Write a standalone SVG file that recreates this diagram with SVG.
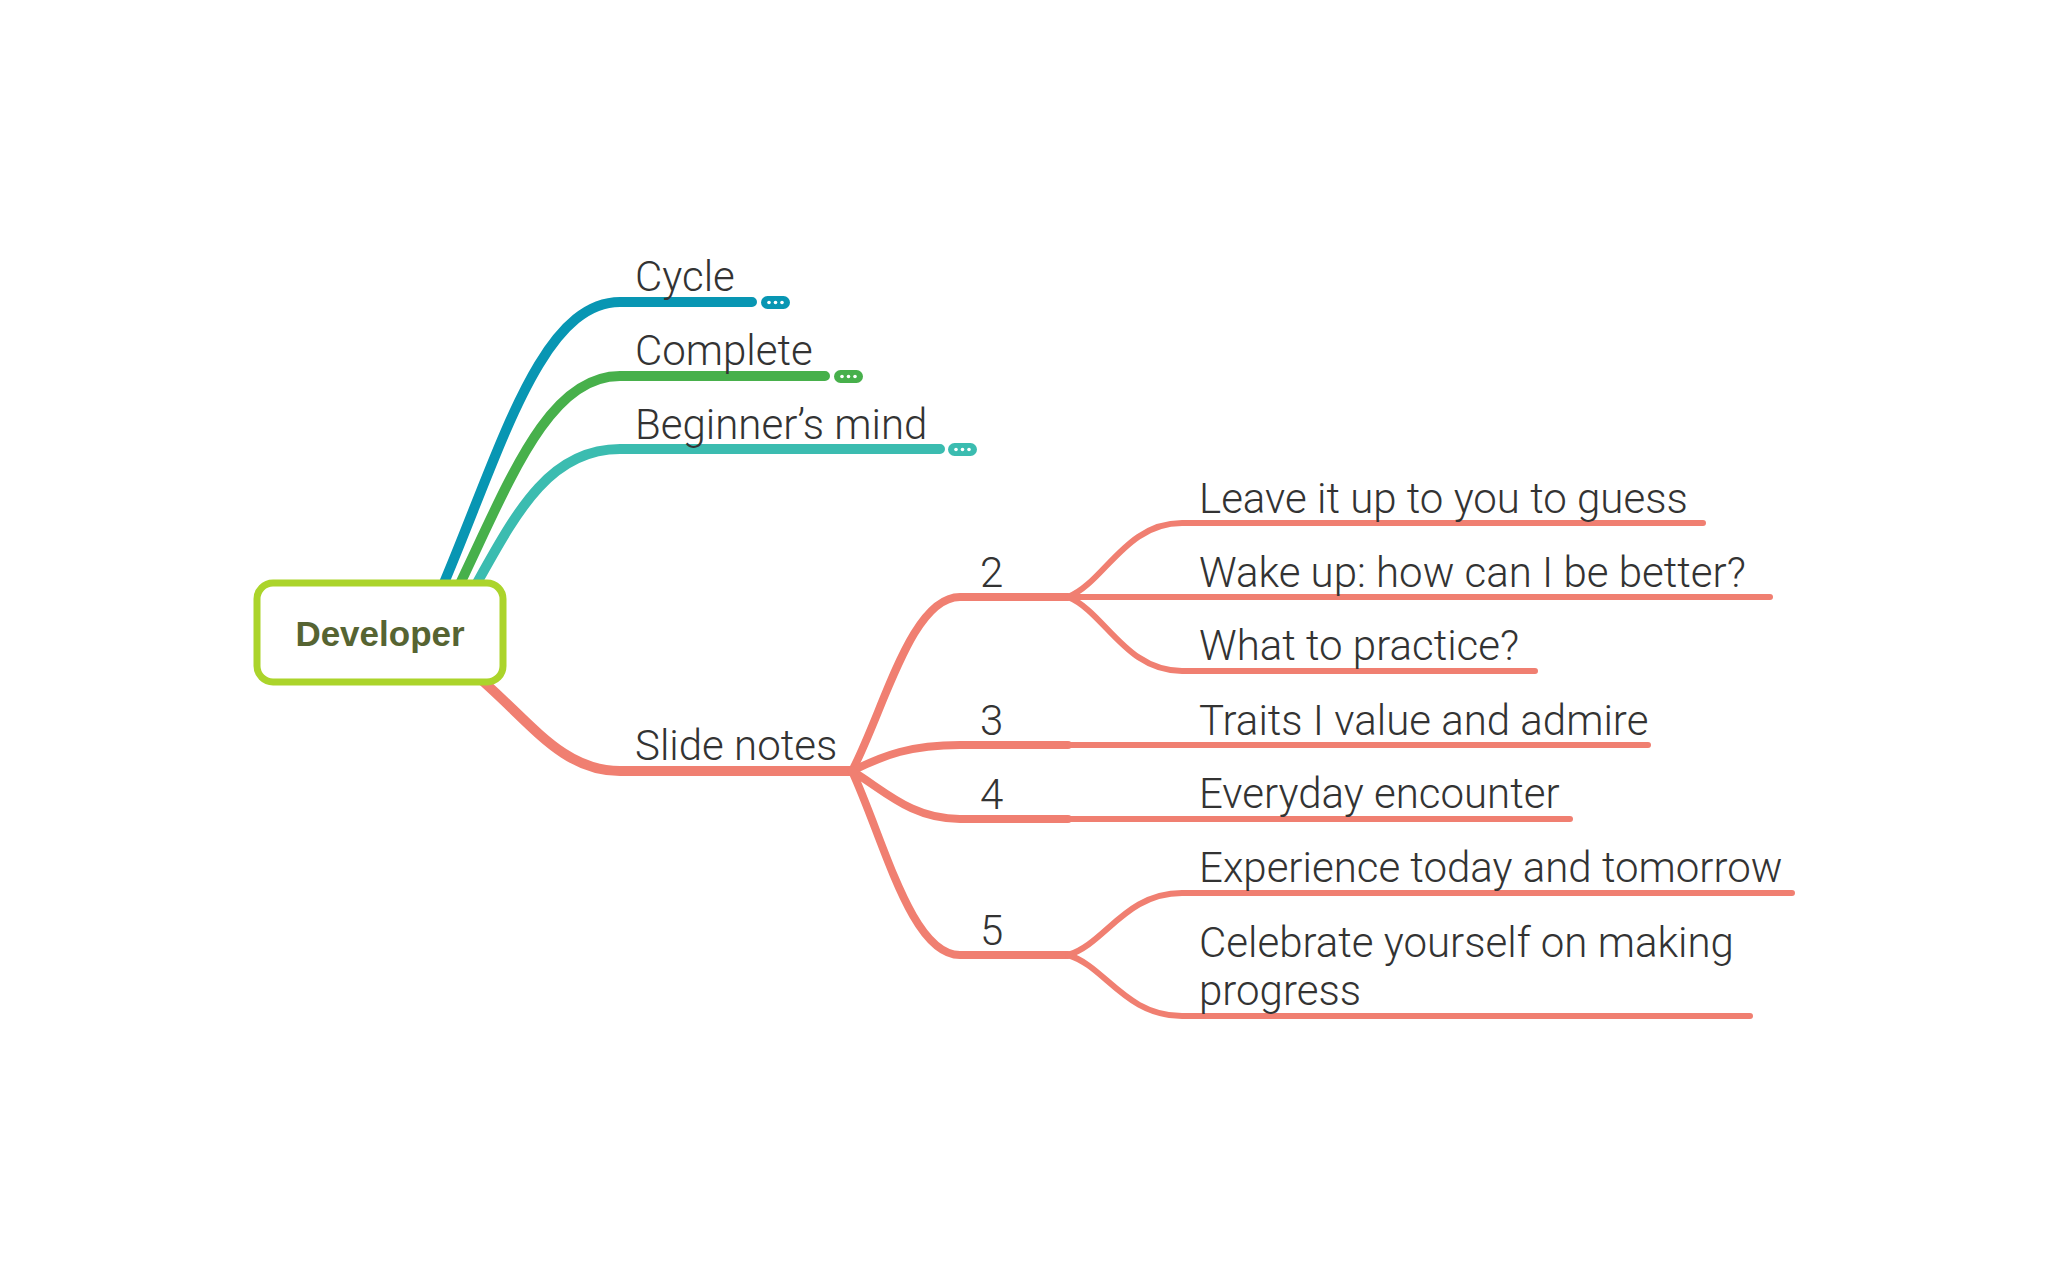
<svg xmlns="http://www.w3.org/2000/svg" width="2048" height="1266" viewBox="0 0 2048 1266">
<style>
.t{font-family:Roboto,"Liberation Sans",Arial,sans-serif;font-weight:300;font-size:42px;fill:#333333}
.b{fill:none;stroke-linecap:round;stroke-linejoin:round}
.l1{stroke-width:10}
.l2{stroke-width:8}
.l3{stroke-width:6}
.s{stroke:#f07f71}
.dot{fill:#ffffff}
</style>
<rect width="2048" height="1266" fill="#ffffff"/>
<g id="connectors">
  <path class="b l1" stroke="#0896b3" d="M441,590 C500,452 540,302 620,302 L752,302"/>
  <path class="b l1" stroke="#47b04b" d="M457,590 C510,480 548,376 620,376 L825,376"/>
  <path class="b l1" stroke="#3bbcb0" d="M473,590 C515,515 548,449 620,449 L940,449"/>
  <path class="b l1 s" d="M470,670 C530,720 560,771 620,771 L852,771"/>
  <path class="b l2 s" d="M852,771 C884,710 911,597 960,597 L1068,597"/>
  <path class="b l2 s" d="M852,771 C884,755 911,745 960,745 L1068,745"/>
  <path class="b l2 s" d="M852,771 C884,790 911,819 960,819 L1068,819"/>
  <path class="b l2 s" d="M852,771 C884,840 911,955 960,955 L1068,955"/>
  <path class="b l3 s" d="M1068,597 C1105,582 1125,523 1182,523 L1703,523"/>
  <path class="b l3 s" d="M1068,597 L1770,597"/>
  <path class="b l3 s" d="M1068,597 C1105,612 1125,671 1182,671 L1535,671"/>
  <path class="b l3 s" d="M1068,745 L1648,745"/>
  <path class="b l3 s" d="M1068,819 L1570,819"/>
  <path class="b l3 s" d="M1068,955 C1105,944 1125,893 1182,893 L1792,893"/>
  <path class="b l3 s" d="M1068,955 C1105,966 1125,1016 1182,1016 L1750,1016"/>
</g>
<g id="root">
  <rect x="257" y="583" width="246" height="99" rx="16" fill="#ffffff" stroke="#abd42b" stroke-width="7"/>
  <text x="380" y="646" text-anchor="middle" font-family="Liberation Sans,Arial,sans-serif" font-weight="bold" font-size="35" fill="#566432">Developer</text>
</g>
<g id="cycle">
  <text class="t" x="635" y="291">Cycle</text>
  <rect x="761" y="296" width="29" height="13" rx="6.5" fill="#0896b3"/>
  <circle class="dot" cx="769" cy="302.5" r="1.8"/><circle class="dot" cx="775.5" cy="302.5" r="1.8"/><circle class="dot" cx="782" cy="302.5" r="1.8"/>
</g>
<g id="complete">
  <text class="t" x="635" y="365">Complete</text>
  <rect x="834" y="370" width="29" height="13" rx="6.5" fill="#47b04b"/>
  <circle class="dot" cx="842" cy="376.5" r="1.8"/><circle class="dot" cx="848.5" cy="376.5" r="1.8"/><circle class="dot" cx="855" cy="376.5" r="1.8"/>
</g>
<g id="beginners-mind">
  <text class="t" x="635" y="439">Beginner’s mind</text>
  <rect x="948" y="443" width="29" height="13" rx="6.5" fill="#3bbcb0"/>
  <circle class="dot" cx="956" cy="449.5" r="1.8"/><circle class="dot" cx="962.5" cy="449.5" r="1.8"/><circle class="dot" cx="969" cy="449.5" r="1.8"/>
</g>
<g id="slide-notes"><text class="t" x="635" y="760">Slide notes</text></g>
<g id="n2"><text class="t" x="980" y="587">2</text></g>
<g id="n3"><text class="t" x="980" y="735">3</text></g>
<g id="n4"><text class="t" x="980" y="809">4</text></g>
<g id="n5"><text class="t" x="980" y="945">5</text></g>
<g id="leave"><text class="t" x="1199" y="513">Leave it up to you to guess</text></g>
<g id="wake"><text class="t" x="1199" y="587">Wake up: how can I be better?</text></g>
<g id="practice"><text class="t" x="1199" y="660">What to practice?</text></g>
<g id="traits"><text class="t" x="1199" y="735">Traits I value and admire</text></g>
<g id="everyday"><text class="t" x="1199" y="808">Everyday encounter</text></g>
<g id="experience"><text class="t" x="1199" y="882">Experience today and tomorrow</text></g>
<g id="celebrate"><text class="t" x="1199" y="957">Celebrate yourself on making</text><text class="t" x="1199" y="1005">progress</text></g>
</svg>
